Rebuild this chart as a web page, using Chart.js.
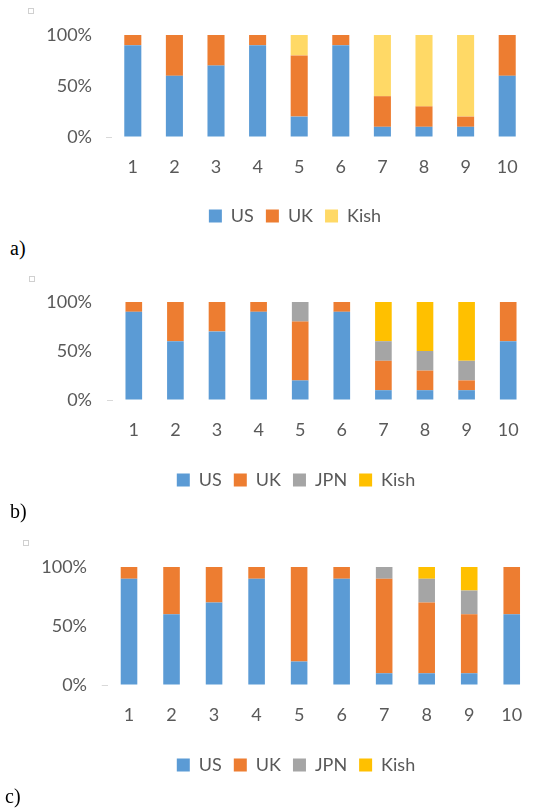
<!DOCTYPE html>
<html>
<head>
<meta charset="utf-8">
<script src="https://cdn.jsdelivr.net/npm/chart.js@4.4.0/dist/chart.umd.min.js"></script>
<style>
    body { margin: 0; background: #fff; }
    #wrap { position: relative; width: 549px; height: 811px; }
    canvas { position: absolute; left: 0; }
    .tag { position: absolute; font-family: "Liberation Serif", serif; font-size: 20px; color: #000; }
    .sq { position: absolute; width: 4px; height: 4px; border: 1px solid #d0d0d0; }
</style>
</head>
<body>
<div id="wrap">
    <canvas id="chartA" style="top:0px" width="549" height="235"></canvas>
    <canvas id="chartB" style="top:270px" width="549" height="229"></canvas>
    <canvas id="chartC" style="top:530px" width="549" height="254"></canvas>
    <div class="tag" style="left:10px; top:237px;">a)</div>
    <div class="tag" style="left:10px; top:500px;">b)</div>
    <div class="tag" style="left:5px; top:785px;">c)</div>
    <div class="sq" style="left:28px; top:8px;"></div>
    <div class="sq" style="left:29px; top:276px;"></div>
    <div class="sq" style="left:23px; top:540px;"></div>
</div>
<script>
    // 資料
    var categories = ['1', '2', '3', '4', '5', '6', '7', '8', '9', '10'];
    var yTicks = [0, 50, 100];

    // a)
    var usA = [90, 60, 70, 90, 20, 90, 10, 10, 10, 60];
    var ukA = [10, 40, 30, 10, 60, 10, 30, 20, 10, 40];
    var kishA = [0, 0, 0, 0, 20, 0, 60, 70, 80, 0];

    // b)
    var usB = [90, 60, 70, 90, 20, 90, 10, 10, 10, 60];
    var ukB = [10, 40, 30, 10, 60, 10, 30, 20, 10, 40];
    var jpnB = [0, 0, 0, 0, 20, 0, 20, 20, 20, 0];
    var kishB = [0, 0, 0, 0, 0, 0, 40, 50, 60, 0];

    // c)
    var usC = [90, 60, 70, 90, 20, 90, 10, 10, 10, 60];
    var ukC = [10, 40, 30, 10, 80, 10, 80, 60, 50, 40];
    var jpnC = [0, 0, 0, 0, 0, 0, 10, 20, 20, 0];
    var kishC = [0, 0, 0, 0, 0, 0, 0, 10, 20, 0];

    var colors = {
        us: '#5B9BD5',
        uk: '#ED7D31',
        jpn: '#A5A5A5',
        kish: '#FFC000',
        kishLight: '#FFD966'
    };

    var textColor = '#595959';
    var font = { family: 'Lato, "Open Sans", sans-serif', size: 18 };

    // 圖例置中位置調整
    var legendShift = {
        id: 'legendShift',
        afterLayout: function (chart, args, opts) {
            var lg = chart.legend;
            if (!lg || !opts.center) return;
            var dx = opts.center - (lg.left + lg.right) / 2;
            lg.left += dx;
            lg.right += dx;
        }
    };

    function makeChart(id, datasets, lay) {
        var ctx = document.getElementById(id).getContext('2d');
        return new Chart(ctx, {
            type: 'bar',
            data: { labels: categories, datasets: datasets },
            plugins: [legendShift],
            options: {
                responsive: false,
                animation: false,
                layout: { padding: { top: lay.top, left: 0, right: lay.right, bottom: 0 } },
                datasets: { bar: { barPercentage: lay.bar, categoryPercentage: 1 } },
                plugins: {
                    legend: {
                        position: 'bottom',
                        labels: { boxWidth: 13, boxHeight: 13, padding: 12, color: textColor, font: font }
                    },
                    legendShift: { center: lay.lc },
                    tooltip: { enabled: false }
                },
                scales: {
                    x: {
                        stacked: true,
                        grid: { display: false, drawTicks: false },
                        border: { display: false },
                        ticks: { color: textColor, font: font, padding: 19, maxRotation: 0 },
                        afterFit: function (scale) { scale.height = lay.xh; }
                    },
                    y: {
                        stacked: true,
                        min: 0,
                        max: 100,
                        afterBuildTicks: function (scale) {
                            scale.ticks = yTicks.map(function (v) { return { value: v }; });
                        },
                        grid: {
                            drawOnChartArea: false,
                            drawTicks: true,
                            tickLength: 6,
                            color: function (c) { return c.tick && c.tick.value === 0 ? '#d9d9d9' : 'rgba(0,0,0,0)'; }
                        },
                        border: { display: false },
                        ticks: {
                            color: textColor,
                            font: font,
                            padding: lay.tp,
                            callback: function (v) { return v + '%'; }
                        },
                        afterFit: function (scale) { scale.width = lay.yw; }
                    }
                }
            }
        });
    }

    window.onload = function () {
        makeChart('chartA', [
            { label: 'US', data: usA, backgroundColor: colors.us },
            { label: 'UK', data: ukA, backgroundColor: colors.uk },
            { label: 'Kish', data: kishA, backgroundColor: colors.kishLight }
        ], { top: 35, right: 21, yw: 112, tp: 14, xh: 58, bar: 0.41, lc: 295 });

        makeChart('chartB', [
            { label: 'US', data: usB, backgroundColor: colors.us },
            { label: 'UK', data: ukB, backgroundColor: colors.uk },
            { label: 'JPN', data: jpnB, backgroundColor: colors.jpn },
            { label: 'Kish', data: kishB, backgroundColor: colors.kish }
        ], { top: 32, right: 20, yw: 113, tp: 15, xh: 59, bar: 0.40, lc: 296 });

        makeChart('chartC', [
            { label: 'US', data: usC, backgroundColor: colors.us },
            { label: 'UK', data: ukC, backgroundColor: colors.uk },
            { label: 'JPN', data: jpnC, backgroundColor: colors.jpn },
            { label: 'Kish', data: kishC, backgroundColor: colors.kish }
        ], { top: 37, right: 16, yw: 107.75, tp: 14.75, xh: 59, bar: 0.39, lc: 296 });
    };
</script>
</body>
</html>
